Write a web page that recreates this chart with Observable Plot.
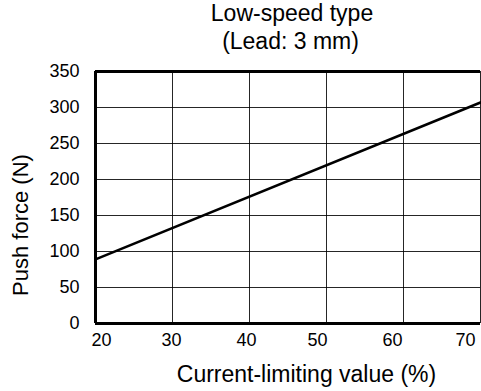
<!DOCTYPE html>
<html><head><meta charset="utf-8">
<script src="https://cdn.jsdelivr.net/npm/d3@7"></script>
<script src="https://cdn.jsdelivr.net/npm/@observablehq/plot@0.6"></script>
<style>html,body{margin:0;padding:0;background:#fff;}</style>
</head><body><div id="chart"></div>
<script>
const currentLimit = [20, 70];
const pushForce = [89, 307];
const xTicks = [20, 30, 40, 50, 60, 70];
const yTicks = [0, 50, 100, 150, 200, 250, 300, 350];
const titleLine1 = "Low-speed type";
const titleLine2 = "(Lead: 3 mm)";
const xLabel = "Current-limiting value (%)";
const yLabel = "Push force (N)";

const data = currentLimit.map((x, i) => ({x, y: pushForce[i]}));
const font = "'Liberation Sans', Arial, sans-serif";

// label nudges per tick group (styling only), matching the reference's slight drift
const xLabelNudge = [6, -1, -3, -9, -11, -15];
const xAxisMarks = xTicks.map((t, i) =>
  Plot.axisX([t], {tickSize: 0, tickPadding: 10, fontSize: 18, dx: xLabelNudge[i], label: null})
);

const chart = Plot.plot({
  width: 481,
  height: 391,
  marginTop: 71,
  marginBottom: 68,
  marginLeft: 95,
  marginRight: 1,
  style: {fontFamily: font, background: "#fff", color: "#000"},
  x: {domain: [20, 70]},
  y: {domain: [0, 350]},
  marks: [
    Plot.gridX(xTicks, {stroke: "#000", strokeOpacity: 0.85, strokeWidth: 1}),
    Plot.gridY(yTicks, {stroke: "#000", strokeOpacity: 0.85, strokeWidth: 1}),
    Plot.line(data, {x: "x", y: "y", stroke: "#000", strokeWidth: 2.6}),
    Plot.ruleY([0], {stroke: "#000", strokeWidth: 3}),
    Plot.ruleY([350], {stroke: "#000", strokeWidth: 3}),
    Plot.ruleX([20], {stroke: "#000", strokeWidth: 3}),
    ...xAxisMarks,
    Plot.axisY(yTicks, {tickSize: 0, tickPadding: 16, fontSize: 18, label: null}),
    Plot.text([titleLine1], {frameAnchor: "top", lineAnchor: "top", fontSize: 23, dx: 4, dy: -66.6}),
    Plot.text([titleLine2], {frameAnchor: "top", lineAnchor: "top", fontSize: 23, dx: 2.5, dy: -39}),
    Plot.text([xLabel], {frameAnchor: "bottom", fontSize: 23, dx: 18.5, dy: 58.5}),
    Plot.text([yLabel], {frameAnchor: "left", textAnchor: "middle", lineAnchor: "middle", fontSize: 22, rotate: -90, dx: -75, dy: 27.5})
  ]
});
document.getElementById("chart").appendChild(chart);
</script>
</body></html>
